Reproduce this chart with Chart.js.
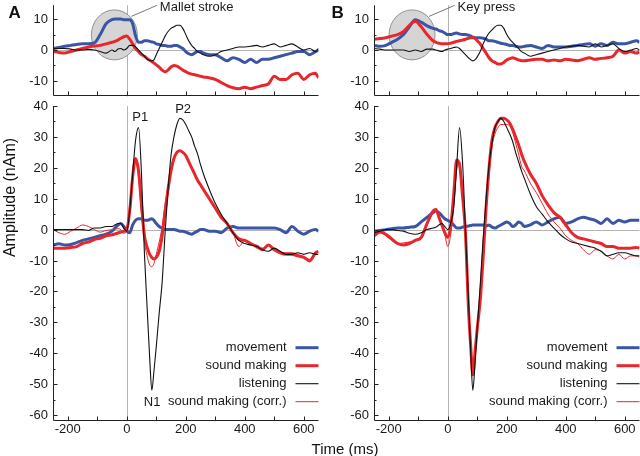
<!DOCTYPE html>
<html>
<head>
<meta charset="utf-8">
<script src="https://cdn.jsdelivr.net/npm/chart.js@4.4.1/dist/chart.umd.min.js"></script>
<style>
  body { margin: 0; background: #fff; }
  #fig { position: relative; width: 640px; height: 456px; overflow: hidden; background: #fff; }
  #fig canvas { position: absolute; left: 0; top: 0; }
</style>
</head>
<body>
<div id="fig">
  <canvas id="aTop" width="640" height="456"></canvas>
  <canvas id="aBot" width="640" height="456"></canvas>
  <canvas id="bTop" width="640" height="456"></canvas>
  <canvas id="bBot" width="640" height="456"></canvas>
</div>
<script>
/* time base shared by all traces (ms) */
const timeMs = [-250,-230,-210,-190,-170,-150,-130,-110,-90,-70,-50,
  -40,-30,-20,-10,0,10,20,30,40,50,60,70,78,85,92,
  100,110,120,130,140,150,160,170,180,190,200,210,220,230,240,250,260,
  280,300,320,340,360,380,400,420,440,460,480,500,520,540,560,580,600,620,640,650];

const seriesLabels = ['movement', 'sound making', 'listening', 'sound making (corr.)'];

/* A, upper panel */
const aTopMove = [0.5,0.8,1.2,1.5,1.8,2,2,2.3,5,8.5,9.8,
  10,10,10,9.8,9.8,9.8,8.5,4.5,2.5,2.5,3,3,2.8,2.6,2.5,
  2,1.8,1.5,1.5,1.2,1.2,1.5,1.5,1,0.5,-0.5,-1.2,-1.5,-1,-0.5,-0.5,-1,
  -1.5,-1.5,-2.5,-3.5,-2.5,-3,-4,-3,-4,-3,-3,-2.5,-2,-1.5,-1,-0.5,-0.5,-1.5,-0.5,0];
const aTopSound = [-0.5,-0.8,-1,-0.5,0,0.5,1,1.3,1.5,2,2.5,
  2.8,3.2,3.8,4.3,4.5,3.5,2,0.5,-0.5,-1.5,-2,-2.8,-3.3,-3.7,-4.2,
  -4.8,-5.5,-6.5,-7,-6.5,-5.5,-5,-5.2,-5.8,-6.5,-7,-7.5,-7.8,-8,-8.2,-8.5,-8.7,
  -9,-9.5,-10.5,-11.5,-12.2,-12.5,-12,-12.5,-12,-11.5,-11,-8.5,-9.5,-9.5,-8,-7.5,-9.5,-8,-7.5,-9];
const aTopListen = [0.5,0.5,0.5,0.3,0,0,0.2,0,-0.5,-1,0,
  -0.5,0.3,0.5,0,0.5,1.5,1.5,1,0,-1,-2,-3,-3.4,-3.5,-3.2,
  -1.5,0.5,2.5,4.5,6,7,7.5,8,8,7,5,3,1.5,0.5,-0.5,-1,-1.5,
  -2,-1.5,-0.5,0,0.5,1,1,1.2,1.5,1,1.5,2,1,1.5,2,1,0,0.5,-0.5,0.5];

/* A, lower panel */
const aBotMove = [-5,-4.6,-5,-4.8,-4.2,-3.5,-3,-2.5,-2,-1.5,-0.5,
  0.5,1.5,2,1,-0.5,-1,1.5,3,3.5,3.5,3,3,3.3,3.5,3,
  2,1,0.5,0,0,0,0,-0.2,-0.5,-0.5,-0.8,-1.2,-1.5,-1,-0.5,0,0,
  -0.5,-0.5,-1,0.5,1,0.5,0.5,0.5,0.5,0.5,0.5,0.5,0,-1,1,-0.5,-1.5,-0.5,0,-0.5];
const aBotSound = [-6,-6,-6,-5.8,-5.5,-4.5,-4,-3.2,-2.8,-2,-1.7,
  -1.4,-1.1,-0.8,-0.5,0,6,17,23,19,8,-2,-6,-8,-9,-9.5,
  -9,-7,-2,6,13,19,23,25,25.5,25,24,22,20,18,16,14.5,13,
  10,7,4,2,-1,-3,-3.5,-4.5,-5.5,-6.5,-5,-6.5,-7.5,-8,-8,-8.5,-9,-10,-7.5,-7];
const aBotListen = [0,0,0,0,0,0,-0.3,0.5,0.5,1,1,
  1.5,2,2,0.5,-0.5,6,18,29,33,18,-8,-27,-42,-52,-46,
  -38,-27,-17,-1,13,24,30,34,36,35.5,34,32,30,27,24.5,21,18,
  13,8.5,5,2,-1,-3.5,-4.5,-5,-5.5,-6.5,-7,-6,-7,-8,-8,-7.5,-8,-7.5,-8,-8];
const aBotCorr = [0,-1,-1.5,-0.5,0.5,1.5,1,0,-0.8,-0.3,0,
  0.2,0.3,0,-1.2,-0.5,8,18,22,17,5,-4,-9,-11.5,-12,-11,
  -8,-4,1,8,14,20,23.5,25,25.5,25,24,22,20,18,16,14.5,13,
  10,7,4,2,-1,-5.5,-3.5,-5,-5,-6,-5,-6.5,-7.5,-7.5,-7.5,-8,-9,-10.5,-8,-7];

/* B, upper panel */
const bTopMove = [1.5,1.2,1.5,2.5,3.5,5,7.5,9.8,9,7.8,7,
  6.8,6.3,6,5.5,5,5,5.3,5.5,5.2,5,5,4.8,4.5,4.2,4,
  4,4,3.8,3.5,3,3,2.8,2.5,2.2,2,1.8,1.5,1.5,1.2,1,1,1.2,
  1.5,1,0.5,1.5,1,1,1,1.2,1.5,1.8,2,1.2,2,1.5,2.5,2,2,2.5,3,2.5];
const bTopSound = [3.5,3.7,4,4.5,5,6,8,9.3,7.5,5,3,
  2.5,2.2,2,2,2,2.2,2.5,2.8,3,3.2,3.5,3.8,4,4,3.8,
  3,2,0.5,-1,-2.5,-3.5,-4,-4.5,-4.5,-4,-3.2,-2.8,-2.5,-2.8,-3.2,-3.5,-3.5,
  -3.2,-3,-3,-3.5,-3.2,-3.5,-3,-3.2,-3.5,-3,-2.5,-3,-2.7,-2.5,-2,0,-1,-0.5,-1,-0.5];
const bTopListen = [0.5,0.3,0,0,0,0,-0.5,0,-0.5,0.3,0.3,
  0,-0.3,-0.5,0,0.3,0.5,0.8,1,0.5,-0.5,-1.5,-2.5,-3.2,-3.5,-3.2,
  -2.2,-0.5,2,4,5.5,6.5,7.5,8,8,7,5,3.5,2.5,1.5,0.5,-0.5,-1,
  -2,-1.5,-1,-0.5,0,0.5,1,1.2,1.5,1.2,1,2,1,1.5,2,0.5,-0.5,0,0.5,0];

/* B, lower panel */
const bBotMove = [-0.5,-0.3,0,0.3,0.5,0.5,0.8,1,2.5,4,5.5,
  6,5.5,4.5,3.5,3,2.5,1.5,0.5,0.5,0.8,1,1.2,1.3,1.5,1.5,
  1.5,1.5,1.5,1.2,1.5,0.8,0.5,1,1.5,2,2.5,2,1,1.5,2.5,2,1,
  1.5,2.5,1.5,2.5,3.5,4,2,2.5,3.5,4,3.5,3,2,3.5,2,3,2.5,3,3,3];
const bBotSound = [-2,-0.8,-1.5,-3,-4.5,-5,-4.5,-3.5,-2.5,2,6,
  6.5,4,1.5,-1,-2.5,1,11,22.5,21,11,-1,-25,-38,-47,-40,
  -32,-23,-9,7,20,29,33,35,36,36,35.5,34.5,32.5,30,27.5,24.5,22,
  18,15,11,8,5.5,4,1.5,-1,-2.5,-3,-3.5,-4,-4.5,-5.5,-5.5,-6,-6,-6,-5.8,-6];
const bBotListen = [-1,-0.5,0,0,-0.3,-0.5,-1.2,-1.5,-1,0,0.5,
  0.8,1.5,2,1,0,2,7,20,33,22,0,-22,-40,-52,-44,
  -32,-18,-3,10,21,28,33,35,36,35,33,31,28.5,25,22,19,16.5,
  11.5,7.5,5,2.5,0.5,-1.5,-3,-4,-4.5,-5,-5.5,-6,-7,-8.5,-8,-7.5,-7.5,-8,-8.5,-8.5];
const bBotCorr = [-2,-1,-2,-3.5,-4.5,-4.3,-4,-3.5,-3,1.5,5.5,
  6.5,4.5,2,-1.5,-5.5,-1.5,8,19,22,12,-2,-24,-38,-47,-41,
  -31,-22,-9,6,18,27,31,33,34,34,34,33.5,31.5,28,24.5,20.5,19,
  15,12,8.5,5,2.5,0.5,-2,-3.5,-4.5,-6.5,-8,-6.5,-7,-8.5,-9.5,-8,-9.5,-8.5,-8.5,-9];

/* axes */
const xMajorTicks = [-200,-100,0,100,200,300,400,500,600];
const xTickLabels = [-200,0,200,400,600];
const yTicksTop = [-10,0,10];
const yMinorTop = [-5,5];
const yTicksBottom = [-60,-50,-40,-30,-20,-10,0,10,20,30,40];
const yMinorBottom = [-55,-45,-35,-25,-15,-5,5,15,25,35];

/* annotations */
const peakLabels = [{text: 'P1', t: 46, v: 36.3}, {text: 'P2', t: 191, v: 39}, {text: 'N1', t: 86, v: -56}];

const FONT = '"Liberation Sans", Arial, Helvetica, sans-serif';
const BLUE = '#3b55a5', RED = '#e8272c', BLACK = '#111111';

const paneDecor = {
    id: 'paneDecor',
    beforeDatasetsDraw(chart, args, o) {
        const {ctx, chartArea: a, scales: {x, y}} = chart;
        ctx.save();
        // zero lines
        ctx.strokeStyle = '#b4b4b4'; ctx.lineWidth = 1;
        const x0 = Math.round(x.getPixelForValue(0)) + 0.5;
        const y0 = Math.round(y.getPixelForValue(0)) + 0.5;
        ctx.beginPath();
        ctx.moveTo(x0, a.top); ctx.lineTo(x0, a.bottom);
        ctx.moveTo(a.left, y0); ctx.lineTo(a.right, y0);
        ctx.stroke();
        // grey circle round the action
        if (o.callout) {
            const cx = x.getPixelForValue(o.callout.t), cy = y.getPixelForValue(o.callout.v);
            ctx.beginPath(); ctx.ellipse(cx, cy, 23, 25, 0, 0, Math.PI * 2);
            ctx.fillStyle = '#d5d5d5'; ctx.fill();
            ctx.strokeStyle = '#7c7c7c'; ctx.lineWidth = 0.8; ctx.stroke();
            ctx.beginPath(); ctx.moveTo(cx + 17, cy - 18.5); ctx.lineTo(cx + 42.5, cy - 29.5);
            ctx.strokeStyle = '#555'; ctx.stroke();
            ctx.fillStyle = '#1a1a1a'; ctx.font = '13px ' + FONT;
            ctx.textAlign = 'left'; ctx.textBaseline = 'middle';
            ctx.fillText(o.callout.text, cx + 45.5, cy - 27.5);
        }
        ctx.restore();
    },
    afterDatasetsDraw(chart, args, o) {
        const {ctx, chartArea: a, scales: {x, y}} = chart;
        ctx.save();
        ctx.strokeStyle = '#222'; ctx.lineWidth = 1;
        const L = Math.round(a.left) + 0.5, B = Math.round(a.bottom) - 0.5;
        ctx.beginPath();
        ctx.moveTo(L, a.top); ctx.lineTo(L, B); ctx.lineTo(a.right, B);
        // inward ticks
        o.xTicks.forEach(t => { const px = Math.round(x.getPixelForValue(t)) + 0.5; ctx.moveTo(px, B); ctx.lineTo(px, B - 4); });
        o.yTicks.forEach(v => { const py = Math.round(y.getPixelForValue(v)) + 0.5; ctx.moveTo(L, py); ctx.lineTo(L + 4, py); });
        o.yMinor.forEach(v => { const py = Math.round(y.getPixelForValue(v)) + 0.5; ctx.moveTo(L, py); ctx.lineTo(L + 2, py); });
        ctx.stroke();

        ctx.fillStyle = '#1a1a1a'; ctx.font = '13px ' + FONT;
        ctx.textAlign = 'right'; ctx.textBaseline = 'middle';
        o.yTicks.forEach(v => ctx.fillText(String(v), a.left - 5, y.getPixelForValue(v) + 0.5));
        if (o.xLabels) {
            ctx.textAlign = 'center';
            o.xLabels.forEach(t => ctx.fillText(String(t), x.getPixelForValue(t), a.bottom + 8.5));
        }
        if (o.peaks) {
            ctx.textAlign = 'center';
            o.peaks.forEach(p => ctx.fillText(p.text, x.getPixelForValue(p.t), y.getPixelForValue(p.v)));
        }
        if (o.legend) {
            chart.data.datasets.forEach((ds, i) => {
                const ly = a.bottom - 74 + i * 18;
                ctx.textAlign = 'right'; ctx.fillStyle = '#1a1a1a';
                ctx.fillText(ds.label, a.right - 32, ly);
                ctx.beginPath(); ctx.moveTo(a.right - 23, ly + 0.5); ctx.lineTo(a.right, ly + 0.5);
                ctx.strokeStyle = ds.borderColor; ctx.lineWidth = ds.borderWidth; ctx.stroke();
            });
        }
        if (o.texts) {
            o.texts.forEach(s => {
                ctx.save();
                ctx.font = s.font; ctx.fillStyle = '#111'; ctx.textAlign = s.align; ctx.textBaseline = 'alphabetic';
                ctx.translate(s.x, s.y); ctx.rotate(s.rot || 0);
                ctx.fillText(s.text, 0, 0);
                ctx.restore();
            });
        }
        ctx.restore();
    }
};

function toPoints(vals) {
    return vals.map((v, i) => ({x: timeMs[i], y: v}));
}

function makeSeries(move, sound, listen, corr) {
    const out = [
        {label: seriesLabels[0], data: toPoints(move), borderColor: BLUE, borderWidth: 3, order: 4},
        {label: seriesLabels[1], data: toPoints(sound), borderColor: RED, borderWidth: 3, order: 3},
        {label: seriesLabels[2], data: toPoints(listen), borderColor: BLACK, borderWidth: 1.1, order: 1}
    ];
    if (corr) out.push({label: seriesLabels[3], data: toPoints(corr), borderColor: RED, borderWidth: 1, order: 2});
    return out;
}

function makePanel(id, box, yMin, yMax, datasets, decor) {
    new Chart(document.getElementById(id), {
        type: 'line',
        data: {datasets: datasets},
        options: {
            responsive: false,
            animation: false,
            devicePixelRatio: 1,
            events: [],
            layout: {padding: {left: box.left, top: box.top, right: 640 - box.right, bottom: 456 - box.bottom}},
            scales: {
                x: {type: 'linear', min: -250, max: 650, display: false},
                y: {type: 'linear', min: yMin, max: yMax, display: false}
            },
            elements: {
                point: {radius: 0},
                line: {cubicInterpolationMode: 'monotone', borderJoinStyle: 'round', fill: false}
            },
            plugins: {legend: {display: false}, tooltip: {enabled: false}, paneDecor: decor}
        },
        plugins: [paneDecor]
    });
}

const topBoxA = {left: 53, right: 318.5, top: 5.2, bottom: 96.4};
const botBoxA = {left: 53, right: 318.5, top: 106, bottom: 421.2};
const topBoxB = {left: 374, right: 639.5, top: 5.2, bottom: 96.4};
const botBoxB = {left: 374, right: 639.5, top: 106, bottom: 421.2};

makePanel('aTop', topBoxA, -15, 14.5, makeSeries(aTopMove, aTopSound, aTopListen), {
    xTicks: xMajorTicks, yTicks: yTicksTop, yMinor: yMinorTop,
    callout: {text: 'Mallet stroke', t: -42, v: 4.9},
    texts: [
        {text: 'A', x: 8.5, y: 17.5, font: 'bold 17px ' + FONT, align: 'left'},
        {text: 'B', x: 331.5, y: 17.5, font: 'bold 17px ' + FONT, align: 'left'},
        {text: 'Amplitude (nAm)', x: 15, y: 197.5, font: '16px ' + FONT, align: 'center', rot: -Math.PI / 2},
        {text: 'Time (ms)', x: 345, y: 454, font: '15px ' + FONT, align: 'center'}
    ]
});
makePanel('aBot', botBoxA, -62, 40, makeSeries(aBotMove, aBotSound, aBotListen, aBotCorr), {
    xTicks: xMajorTicks, yTicks: yTicksBottom, yMinor: yMinorBottom, xLabels: xTickLabels,
    peaks: peakLabels, legend: true
});
makePanel('bTop', topBoxB, -15, 14.5, makeSeries(bTopMove, bTopSound, bTopListen), {
    xTicks: xMajorTicks, yTicks: yTicksTop, yMinor: yMinorTop,
    callout: {text: 'Key press', t: -121, v: 4.9}
});
makePanel('bBot', botBoxB, -62, 40, makeSeries(bBotMove, bBotSound, bBotListen, bBotCorr), {
    xTicks: xMajorTicks, yTicks: yTicksBottom, yMinor: yMinorBottom, xLabels: xTickLabels,
    legend: true
});
</script>
</body>
</html>
